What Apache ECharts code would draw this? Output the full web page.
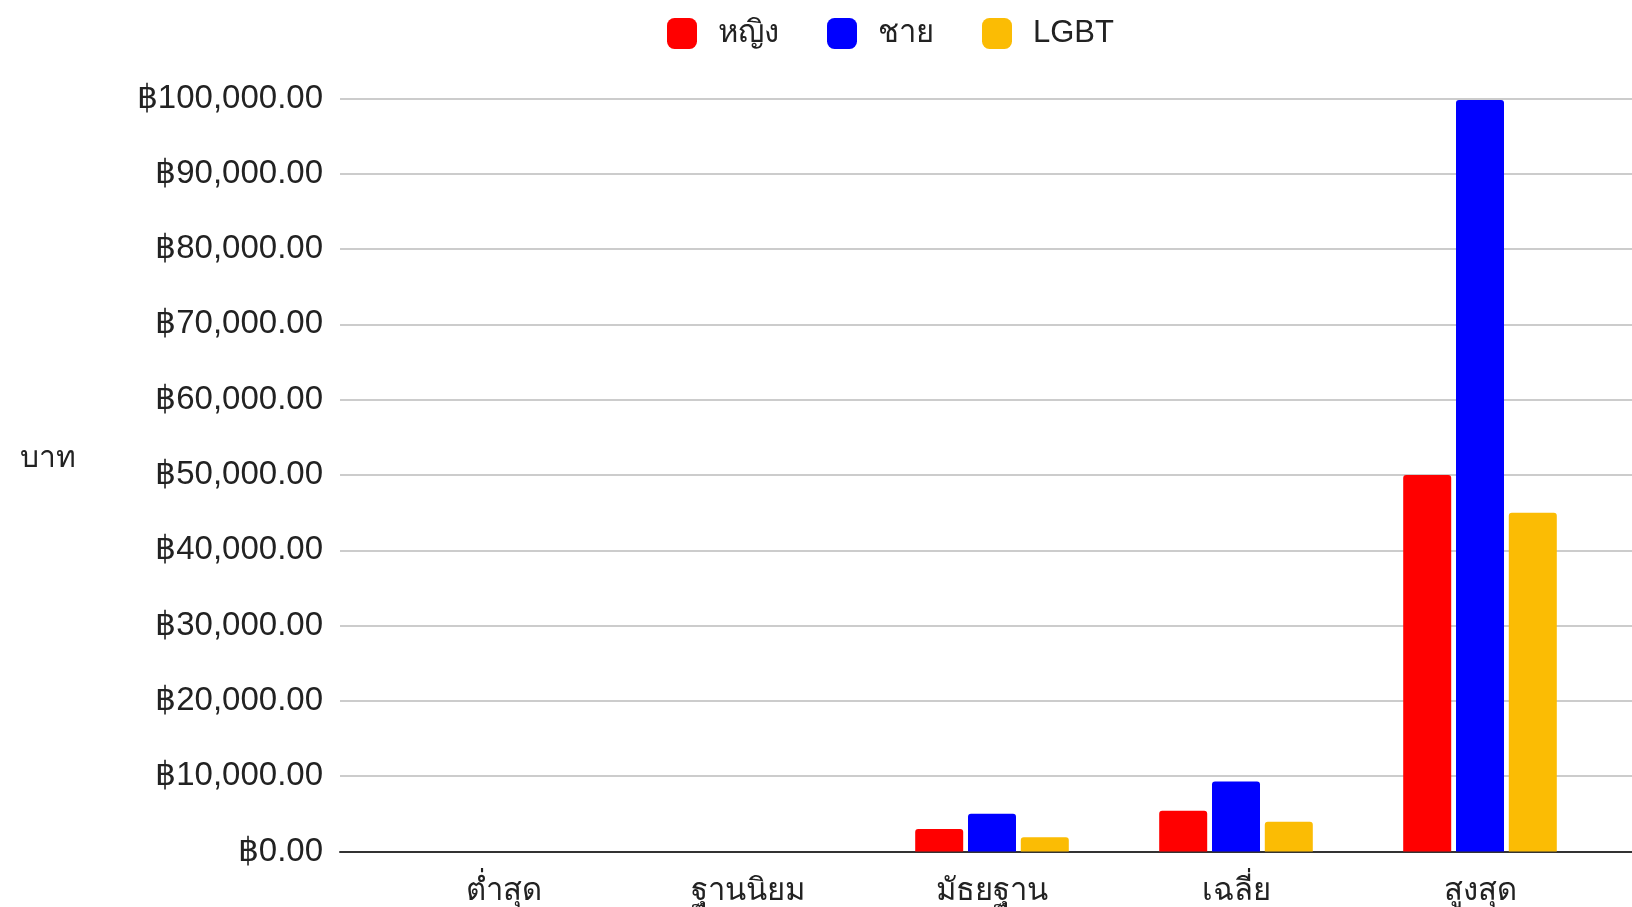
<!DOCTYPE html>
<html>
<head>
<meta charset="utf-8">
<script src="https://cdn.jsdelivr.net/npm/echarts@6/dist/echarts.min.js"></script>
<style>
html,body{margin:0;padding:0;background:#fff;}
#chart{width:1632px;height:907px;}
</style>
</head>
<body>
<div id="chart"></div>
<script>
const categories = ['ต่ำสุด', 'ฐานนิยม', 'มัธยฐาน', 'เฉลี่ย', 'สูงสุด'];
const seriesNames = ['หญิง', 'ชาย', 'LGBT'];
const women = [0, 0, 3000, 5400, 50000];
const men = [0, 0, 5000, 9300, 99800];
const lgbt = [0, 0, 1900, 3950, 45000];
const colors = ['#ff0000', '#0000ff', '#fbbc04'];
const yMin = 0, yMax = 100000, yInterval = 10000;
const yAxisName = 'บาท';

const FONT = 'Arial, "Liberation Sans", "Noto Sans", sans-serif';
const chart = echarts.init(document.getElementById('chart'));
const gridTop = 98.5, gridBottom = 55.5;

function baht(v) {
  return '฿' + Number(v).toLocaleString('en-US', {minimumFractionDigits: 2, maximumFractionDigits: 2});
}

const barStyle = {borderRadius: [3, 3, 0, 0]};
const dataSets = [women, men, lgbt];

chart.setOption({
  backgroundColor: '#fff',
  textStyle: {fontFamily: FONT},
  legend: {
    top: 13,
    left: 662,
    itemWidth: 30,
    itemHeight: 31,
    itemGap: 48,
    icon: 'roundRect',
    textStyle: {fontSize: 31, color: '#222', fontFamily: FONT, padding: [0, 0, 0, 16]},
    data: seriesNames
  },
  grid: [
    {left: 382, right: 30, top: gridTop, bottom: gridBottom},
    {left: 340, right: 0, top: gridTop, bottom: gridBottom}
  ],
  xAxis: [
    {
      type: 'category', gridIndex: 0, data: categories,
      axisLine: {show: false}, axisTick: {show: false},
      axisLabel: {fontSize: 31, color: '#222', margin: 24, fontFamily: FONT}
    },
    {
      type: 'value', gridIndex: 1, min: 0, max: 1,
      axisLine: {show: true, lineStyle: {color: '#333', width: 2}},
      axisTick: {show: false}, axisLabel: {show: false}, splitLine: {show: false}
    }
  ],
  yAxis: [
    {
      type: 'value', gridIndex: 0, min: yMin, max: yMax, interval: yInterval,
      axisLine: {show: false}, axisTick: {show: false}, axisLabel: {show: false}, splitLine: {show: false}
    },
    {
      type: 'value', gridIndex: 1, min: yMin, max: yMax, interval: yInterval,
      axisLine: {show: false}, axisTick: {show: false},
      axisLabel: {fontSize: 33, color: '#222', margin: 17, formatter: baht, fontFamily: FONT},
      splitLine: {show: true, lineStyle: {color: '#cccccc', width: 2}}
    }
  ],
  graphic: [{
    type: 'text', left: 20, top: 444,
    style: {text: yAxisName, fontSize: 30, fill: '#222', fontFamily: FONT}
  }],
  series: seriesNames.map((n, i) => ({
    name: n, type: 'bar', xAxisIndex: 0, yAxisIndex: 0,
    data: dataSets[i],
    itemStyle: Object.assign({color: colors[i]}, barStyle),
    barWidth: 48, barGap: '10%', barCategoryGap: '37%',
    z: 3
  })),
  animation: false
});
</script>
</body>
</html>
